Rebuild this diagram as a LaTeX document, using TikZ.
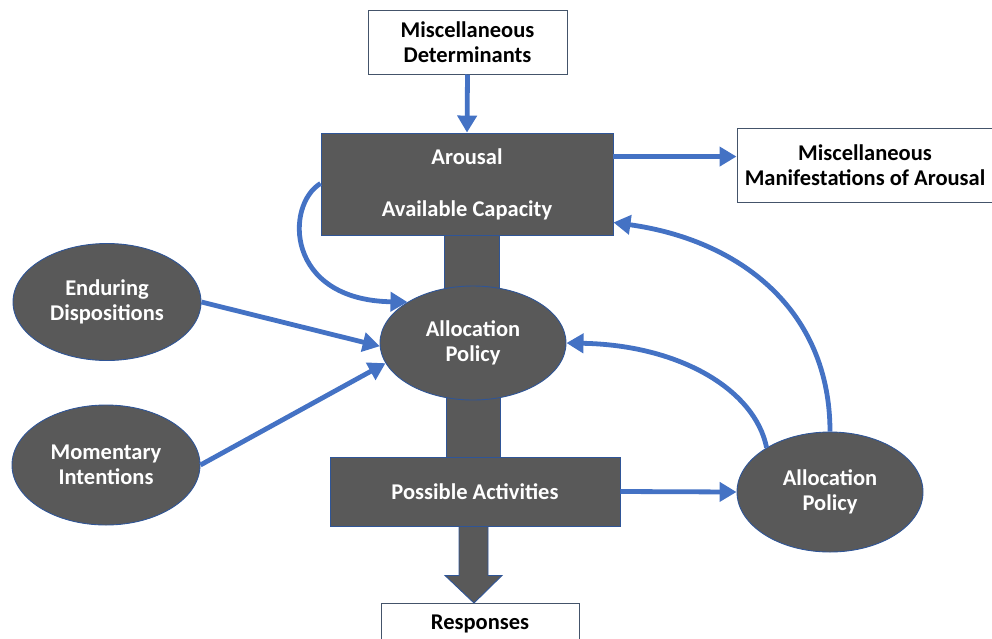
\documentclass[tikz,border=0pt]{standalone}
\usepackage{fontspec}
\setmainfont{Carlito}
\usetikzlibrary{shapes.geometric,arrows.meta,calc}
\definecolor{flowblue}{HTML}{4472C4}
\definecolor{darkfill}{HTML}{595959}
\definecolor{edgeblue}{HTML}{2F5597}
\definecolor{boxline}{HTML}{44546A}

\begin{document}
\begin{tikzpicture}[x=1pt,y=-1pt,
  lbl/.style={font=\fontsize{22.5}{25}\selectfont\bfseries, align=center},
  darkbox/.style={lbl, rectangle, fill=darkfill, draw=edgeblue, line width=0.9pt, text=white, inner sep=0pt},
  darkoval/.style={lbl, ellipse, fill=darkfill, draw=edgeblue, line width=0.9pt, text=white, inner sep=0pt},
  whitebox/.style={lbl, rectangle, fill=white, draw=boxline, line width=1pt, text=black, inner sep=0pt},
  stem/.style={fill=darkfill, draw=edgeblue, line width=0.9pt},
  flow/.style={draw=flowblue, line width=4.8pt, -{Triangle[length=17pt,width=19pt]}},
]
\useasboundingbox (0,0) rectangle (992,638);
\clip (0,0) rectangle (992,638);

% connecting stems behind the central column
\filldraw[stem] (444,230) rectangle (499,300);
\filldraw[stem] (446,390) rectangle (500,462);

% nodes
\node[whitebox, minimum width=199pt, minimum height=64pt] (det) at (467.5,42) {Miscellaneous\\Determinants};
\node[darkbox, minimum width=292pt, minimum height=102pt] (arousal) at (467,184) {Arousal\\[27pt]Available Capacity};
\node[whitebox, minimum width=256pt, minimum height=74pt] (manif) at (865,165) {Miscellaneous\\Manifestations of Arousal};
\node[darkoval, minimum width=186pt, minimum height=114pt] (alloc) at (473,343) {Allocation\\Policy};
\node[darkoval, minimum width=188pt, minimum height=117pt] (endur) at (107,302) {Enduring\\Dispositions};
\node[darkoval, minimum width=188pt, minimum height=120pt] (moment) at (106,465) {Momentary\\Intentions};
\node[darkbox, minimum width=290pt, minimum height=69pt] (poss) at (475,491.5) {Possible Activities};
\node[darkoval, minimum width=186pt, minimum height=120pt] (alloc2) at (830,492) {Allocation\\Policy};
\node[whitebox, minimum width=198pt, minimum height=40pt, anchor=north] (resp) at (480,603) {Responses};

% block arrow from activities to responses
\coordinate (tip) at ($(poss.south)+(-1,0)$);
\filldraw[stem] ($(poss.south)+(-16,0)$) -- ($(poss.south)+(-16,49)$) -- ($(poss.south)+(-30,49)$)
  -- (tip |- resp.north) -- ($(poss.south)+(27,49)$) -- ($(poss.south)+(13,49)$) -- ($(poss.south)+(13,0)$) -- cycle;

% connectors
\draw[flow] (det.south) -- (arousal.north);
\coordinate (aroR) at ($(arousal.north east)+(0,24)$);
\draw[flow] (aroR) -- (aroR -| manif.west);
\draw[flow] (endur.east) -- (alloc.182);
\draw[flow] (moment.east) -- (alloc.193);
\coordinate (aroL) at ($(arousal.south west)+(0,-52)$);
\draw[flow] (aroL) .. controls (285,205) and (285,300) .. (alloc.148);
\draw[flow] (poss.east) -- (alloc2.west);
\coordinate (aroRR) at ($(arousal.south east)+(0,-13)$);
\draw[flow] (alloc2.north) .. controls (830,310) and (740,240) .. (aroRR);
\draw[flow] (alloc2.145) .. controls (755,390) and (680,345) .. (alloc.east);
\end{tikzpicture}
\end{document}
